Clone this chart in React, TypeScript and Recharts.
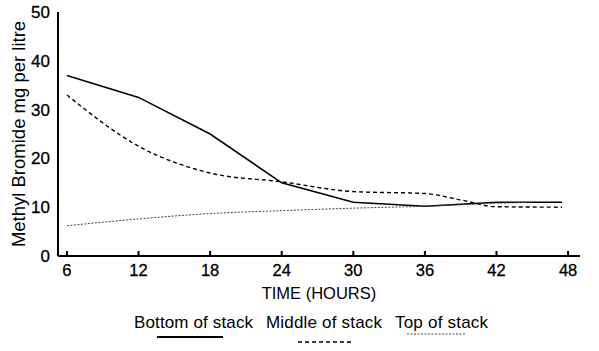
import React from 'react';
import { LineChart, Line, XAxis, YAxis } from 'recharts';

// hours and readings
const bottomHours = [6, 12, 18, 24, 30, 36, 42, 47.5];
const bottomValues = [37, 32.5, 25, 15, 11, 10.2, 11, 11];

const middleHours = [6, 12, 18, 24, 30, 36, 39, 42, 47.5];
const middleValues = [33, 22.5, 17, 15.2, 13.2, 12.8, 11.5, 10.1, 10];

const topHours = [6, 12, 18, 24, 30, 36, 42, 45];
const topValues = [6.2, 7.6, 8.7, 9.3, 9.8, 10.2, 10.8, 11];

const xTicks = [6, 12, 18, 24, 30, 36, 42, 48];
const yTicks = [0, 10, 20, 30, 40, 50];

const legendLabels = ['Bottom of stack', 'Middle of stack', 'Top of stack'];

const toRows = (hours: number[], values: number[]) =>
  hours.map((h, i) => ({ hour: h, value: values[i] }));

const FONT = 'Liberation Sans, Arial, Helvetica, sans-serif';

export default function App() {
  document.body.style.margin = '0';

  const bottom = toRows(bottomHours, bottomValues);
  const middle = toRows(middleHours, middleValues);
  const top = toRows(topHours, topValues);

  return (
    <div style={{ position: 'relative', width: 599, height: 351, background: '#fff', fontFamily: FONT }}>
      <LineChart width={599} height={351} margin={{ top: 12, right: 19, left: 0, bottom: 50 }}>
        <XAxis
          type="number"
          dataKey="hour"
          domain={[5.25, 49]}
          ticks={xTicks}
          allowDuplicatedCategory={false}
          height={45}
          stroke="#000"
          strokeWidth={2}
          tickSize={-5}
          tickMargin={13}
          tick={{ fill: '#000', fontSize: 16.5, fontFamily: FONT, stroke: '#000', strokeWidth: 0.3 }}
          label={{ value: 'TIME (HOURS)', position: 'insideBottom', offset: 2, fill: '#000', fontSize: 16.5, fontFamily: FONT }}
        />
        <YAxis
          type="number"
          domain={[0, 50]}
          ticks={yTicks}
          width={58}
          stroke="#000"
          strokeWidth={2}
          tickLine={false}
          tickSize={0}
          tickMargin={8}
          tick={{ fill: '#000', fontSize: 17, fontFamily: FONT, stroke: '#000', strokeWidth: 0.3 }}
          label={{
            value: 'Methyl Bromide mg per litre',
            angle: -90,
            position: 'insideLeft',
            offset: 18,
            fill: '#000',
            fontSize: 18.5,
            fontFamily: FONT,
            style: { textAnchor: 'middle' },
          }}
        />
        <Line data={bottom} dataKey="value" type="linear" stroke="#000" strokeWidth={1.6} dot={false} isAnimationActive={false} />
        <Line data={middle} dataKey="value" type="monotone" stroke="#000" strokeWidth={1.4} strokeDasharray="4 3" dot={false} isAnimationActive={false} />
        <Line data={top} dataKey="value" type="monotone" stroke="#444" strokeWidth={1} strokeDasharray="2 1.5" dot={false} isAnimationActive={false} />
      </LineChart>

      {/* legend: label text with the line sample underneath */}
      <svg width={599} height={40} style={{ position: 'absolute', left: 0, top: 311 }}>
        <text x={134} y={17} fontSize={17} fontFamily={FONT} fill="#000" textLength={119}>{legendLabels[0]}</text>
        <text x={266} y={17} fontSize={17} fontFamily={FONT} fill="#000" textLength={116}>{legendLabels[1]}</text>
        <text x={395} y={17} fontSize={17} fontFamily={FONT} fill="#000" textLength={93}>{legendLabels[2]}</text>
        <line x1={157} x2={223} y1={26} y2={26} stroke="#000" strokeWidth={2} />
        <line x1={298} x2={352} y1={31} y2={31} stroke="#000" strokeWidth={1.4} strokeDasharray="4 3" />
        <line x1={407} x2={465} y1={23} y2={23} stroke="#444" strokeWidth={1} strokeDasharray="2 1.5" />
      </svg>
    </div>
  );
}
